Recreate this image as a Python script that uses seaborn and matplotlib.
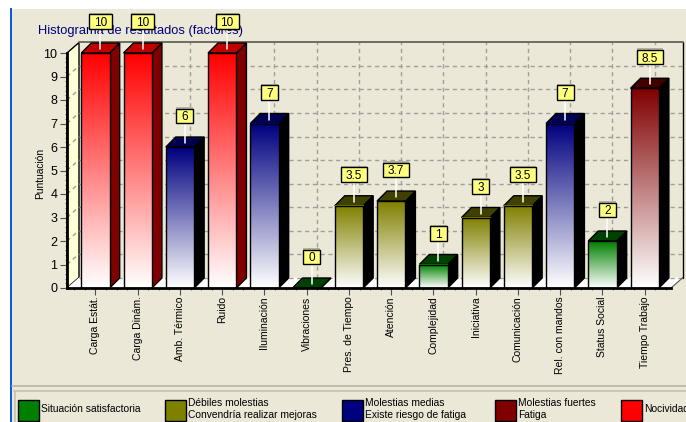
import numpy as np
import matplotlib
matplotlib.use("Agg")
import matplotlib.pyplot as plt
from matplotlib.colors import LinearSegmentedColormap, to_rgb
from matplotlib.patches import Polygon, Rectangle
from matplotlib.ticker import FixedLocator
import seaborn as sns

factors = ["Carga Estát.", "Carga Dinám.", "Amb. Térmico", "Ruido", "Iluminación",
           "Vibraciones", "Pres. de Tiempo", "Atención", "Complejidad", "Iniciativa",
           "Comunicación", "Rel. con mandos", "Status Social", "Tiempo Trabajo"]
scores = [10, 10, 6, 10, 7, 0, 3.5, 3.7, 1, 3, 3.5, 7, 2, 8.5]
levels = ["Nocividad", "Nocividad", "Medias", "Nocividad", "Medias", "Satisfactoria",
          "Debiles", "Debiles", "Satisfactoria", "Debiles", "Debiles", "Medias",
          "Satisfactoria", "Fuertes"]
level_colors = {"Satisfactoria": "#008000", "Debiles": "#808000", "Medias": "#000080",
                "Fuertes": "#800000", "Nocividad": "#FF0000"}
top_colors = {"Satisfactoria": "#004000", "Debiles": "#404000", "Medias": "#000050",
              "Fuertes": "#400000", "Nocividad": "#C00000"}
side_colors = {"Satisfactoria": "#000000", "Debiles": "#000000", "Medias": "#000000",
               "Fuertes": "#000000", "Nocividad": "#800000"}
legend_entries = [("Satisfactoria", 17, ["Situación satisfactoria"]),
                  ("Debiles", 164, ["Débiles molestias", "Convendría realizar mejoras"]),
                  ("Medias", 341, ["Molestias medias", "Existe riesgo de fatiga"]),
                  ("Fuertes", 494, ["Molestias fuertes", "Fatiga"]),
                  ("Nocividad", 620, ["Nocividad"])]

PANEL = "#EBE8D8"
FONT = "Liberation Sans"
W, H = 686, 422

sns.set_theme(style="white")
plt.rcParams["font.family"] = FONT

fig = plt.figure(figsize=(W / 100, H / 100), dpi=100, facecolor=PANEL)

# Window chrome, title and legend live on a pixel-addressed layer
bg = fig.add_axes([0, 0, 1, 1], zorder=0)
bg.set_xlim(0, W)
bg.set_ylim(H, 0)
bg.axis("off")
bg.add_patch(Rectangle((0, 0), W, 9, fc="white", ec="none"))
bg.add_patch(Rectangle((0, 0), 10, H, fc="white", ec="none"))
bg.add_patch(Rectangle((10, 8), 1.5, H, fc="#0A5AE6", ec="none"))
bg.plot([11.5, W], [385.5, 385.5], color="#B8B5A5", lw=1.2)
bg.plot([14, W], [390.5, 390.5], color="#C4C1B1", lw=1.2)
bg.plot([14.5, 14.5], [390.5, H], color="#C4C1B1", lw=1.2)
bg.text(38, 31, "Histograma de resultados (factores)", color="#000080",
        fontsize=9.3, va="center", ha="left")
bg.text(40, 173, "Puntuación", rotation=90, fontsize=7.4, color="black",
        va="center", ha="center")
for level, left, lines in legend_entries:
    bg.add_patch(Rectangle((left + 0.5, 399.5), 21, 21, fc=level_colors[level], ec="black", lw=1))
    if len(lines) == 1:
        bg.text(left + 24, 409, lines[0], fontsize=7.4, va="center", ha="left", color="black")
    else:
        bg.text(left + 24, 403, lines[0], fontsize=7.4, va="center", ha="left", color="black")
        bg.text(left + 24, 414.5, lines[1], fontsize=7.4, va="center", ha="left", color="black")

# Main plotting area: the front plane of the pseudo-3D chart
LEFT, RIGHT, BASE, TOP10 = 67, 671, 288, 53
ax = fig.add_axes([LEFT / W, (H - BASE) / H, (RIGHT - LEFT) / W, (BASE - TOP10) / H], zorder=1)
ax.patch.set_alpha(0)
sns.barplot(x=factors, y=scores, hue=levels, palette=level_colors, dodge=False,
            width=0.672, legend=False, ax=ax, edgecolor="black", linewidth=1, zorder=5)
PX_X = 42.26
XMIN, XMAX = -28.5 / PX_X, 13 + 26.3 / PX_X
ax.set_xlim(XMIN, XMAX)
ax.set_ylim(0, 10)
PX_Y = 23.5
dx_wall, dy_wall = 12 / PX_X, 10.5 / PX_Y
dx_bar, dy_bar = 10 / PX_X, 10 / PX_Y


def poly(pts, **kw):
    ax.add_patch(Polygon(pts, closed=True, clip_on=False, **kw))


# Left wall and floor
poly([(XMIN, 0), (XMIN + dx_wall, dy_wall), (XMIN + dx_wall, 10 + dy_wall), (XMIN, 10)],
     fc="#FFFFD8", ec="black", lw=1, zorder=1)
poly([(XMIN, 0), (XMIN + dx_wall, dy_wall), (XMAX + dx_wall, dy_wall), (XMAX, 0)],
     fc="white", ec="none", zorder=1)
ax.plot([XMAX, XMAX + dx_wall], [0, dy_wall], color="#555555", lw=0.8, clip_on=False, zorder=2)
ax.plot([XMAX + dx_wall, XMAX + dx_wall], [dy_wall, 10 + dy_wall], color="black",
        lw=1, clip_on=False, zorder=2)
ax.plot([XMIN + dx_wall, XMAX + dx_wall], [10 + dy_wall] * 2, color="#6E6C60", lw=1.4,
        clip_on=False, zorder=2)

# Dashed grid on the back wall and left wall
dash = dict(color="#A09F98", lw=1.0, dashes=(3, 2.6), clip_on=False, zorder=1.5)
for y in range(0, 10):
    ax.plot([XMIN + dx_wall, XMAX + dx_wall], [y + dy_wall] * 2, **dash)
for y in range(1, 10):
    ax.plot([XMIN, XMIN + dx_wall], [y, y + dy_wall], **dash)
for i in range(len(factors)):
    ax.plot([i + dx_bar] * 2, [dy_wall, 10 + dy_wall], **dash)

# Gradient fronts, top and side faces, built on the seaborn bars
for bar in list(ax.patches):
    if not isinstance(bar, Rectangle) or bar.get_width() > 1:
        continue
    x0, w, h = bar.get_x(), bar.get_width(), bar.get_height()
    i = int(round(x0 + w / 2))
    level = levels[i]
    x1 = x0 + w
    poly([(x1, 0), (x1 + dx_bar, dy_bar), (x1 + dx_bar, h + dy_bar), (x1, h)],
         fc=side_colors[level], ec="black", lw=1, zorder=4)
    poly([(x0, h), (x0 + dx_bar, h + dy_bar), (x1 + dx_bar, h + dy_bar), (x1, h)],
         fc=top_colors[level], ec="black", lw=1, zorder=4)
    if h > 0:
        cmap = LinearSegmentedColormap.from_list("face", [to_rgb(level_colors[level]), "white"])
        ax.imshow(np.linspace(0, 1, 128).reshape(-1, 1), cmap=cmap, aspect="auto",
                  extent=(x0, x1, 0, h), origin="upper", zorder=4.5, interpolation="bilinear")
        bar.set_facecolor("none")

ax.set_xlim(XMIN, XMAX)
ax.set_ylim(0, 10)

# Value flags: white stem rising from the top face to a yellow box
for i, value in enumerate(scores):
    text = f"{value:g}"
    bw = {1: 17, 2: 23, 3: 26}[len(text)] / PX_X
    cx = i + 4.8 / PX_X
    y_stem = value + 4 / PX_Y
    y_low = value + 24 / PX_Y
    bh = 14.5 / PX_Y
    ax.plot([cx, cx], [y_stem, y_low], color="white", lw=1.1, clip_on=False, zorder=6)
    ax.add_patch(Rectangle((cx - bw / 2, y_low + 0.3 / PX_Y), bw, bh + 1 / PX_Y, fc="#B4B2A6",
                           ec="none", clip_on=False, zorder=6.5))
    ax.add_patch(Rectangle((cx - bw / 2, y_low), bw, bh, fc="#FFFF80", ec="black", lw=1,
                           clip_on=False, zorder=7))
    ax.text(cx, y_low + bh / 2, text, ha="center", va="center_baseline", fontsize=8.5,
            color="black", clip_on=False, zorder=8)

# Axes, ticks and tick labels
ax.set_xlabel("")
ax.set_ylabel("")
sns.despine(ax=ax, top=True, right=True)
for side in ("left", "bottom"):
    ax.spines[side].set_linewidth(2)
    ax.spines[side].set_color("black")
    ax.spines[side].set_zorder(9)
ax.set_yticks(range(0, 11))
ax.set_xticks(range(len(factors)))
ax.set_xticklabels(factors, rotation=90, ha="center", va="top", fontsize=7.5)
ax.yaxis.set_minor_locator(FixedLocator(np.arange(0, 10.01, 0.2)))
ax.xaxis.set_minor_locator(FixedLocator(np.arange(-0.5, 13.6, 0.25)))
ax.tick_params(axis="both", which="major", length=5, width=0.8, color="#505050", bottom=True, left=True)
ax.tick_params(axis="both", which="minor", length=1.5, width=0.7, color="#606060", bottom=True, left=True)
ax.tick_params(axis="x", which="major", pad=1, labelsize=7.5, labelcolor="black")
ax.tick_params(axis="y", which="major", pad=2, labelsize=9, labelcolor="black")

fig.savefig("out.png", dpi=100, facecolor=PANEL)
